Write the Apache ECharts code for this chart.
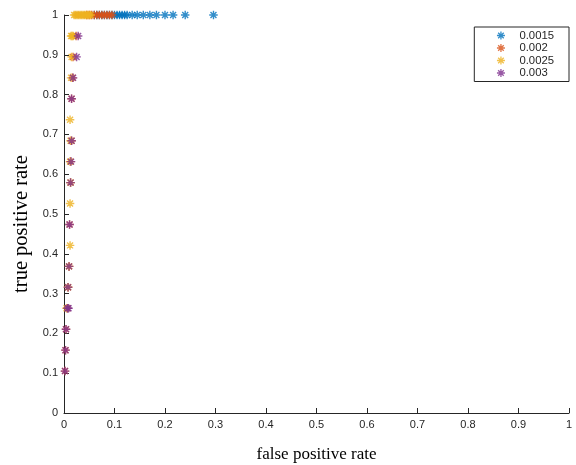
<!DOCTYPE html>
<html>
<head>
<meta charset="utf-8">
<script src="https://cdn.jsdelivr.net/npm/echarts@6/dist/echarts.min.js"></script>
<style>
  html, body { margin: 0; padding: 0; background: #fff; }
  #main { width: 576px; height: 465px; }
</style>
</head>
<body>
<div id="main"></div>
<script>
// thresholds shown in the legend
const names = ['0.0015', '0.002', '0.0025', '0.003']
const colors = ['#0072BD', '#D95319', '#EDB120', '#7E2F8E']

// false positive rate / true positive rate per threshold
const fpr0015 = [0.06, 0.065, 0.07, 0.075, 0.08, 0.085, 0.09, 0.095, 0.1, 0.105, 0.11, 0.115, 0.12, 0.125, 0.135, 0.145, 0.157, 0.17, 0.183, 0.2, 0.216, 0.24, 0.296]
const tpr0015 = [1, 1, 1, 1, 1, 1, 1, 1, 1, 1, 1, 1, 1, 1, 1, 1, 1, 1, 1, 1, 1, 1, 1]

const fpr002 = [0.002, 0.003, 0.004, 0.007, 0.008, 0.01, 0.011, 0.013, 0.013, 0.015, 0.015, 0.017, 0.018, 0.024, 0.045, 0.05, 0.055, 0.06, 0.065, 0.07, 0.075, 0.08, 0.085, 0.09, 0.095]
const tpr002 = [0.1053, 0.1579, 0.2105, 0.2632, 0.3158, 0.3684, 0.4737, 0.5789, 0.6316, 0.6842, 0.7895, 0.8421, 0.8947, 0.9474, 1, 1, 1, 1, 1, 1, 1, 1, 1, 1, 1]

const fpr0025 = [0.005, 0.008, 0.01, 0.012, 0.012, 0.013, 0.012, 0.013, 0.012, 0.014, 0.015, 0.014, 0.016, 0.018, 0.02, 0.023, 0.026, 0.029, 0.032, 0.035, 0.038, 0.041, 0.044, 0.047, 0.05, 0.053]
const tpr0025 = [0.2632, 0.3158, 0.3684, 0.4211, 0.5263, 0.5789, 0.6316, 0.6842, 0.7368, 0.8421, 0.8947, 0.9474, 0.9474, 0.9474, 1, 1, 1, 1, 1, 1, 1, 1, 1, 1, 1, 1]

const fpr003 = [0.002, 0.003, 0.004, 0.007, 0.009, 0.008, 0.01, 0.011, 0.013, 0.014, 0.015, 0.015, 0.018, 0.025, 0.028]
const tpr003 = [0.1053, 0.1579, 0.2105, 0.2632, 0.2632, 0.3158, 0.3684, 0.4737, 0.5789, 0.6316, 0.6842, 0.7895, 0.8421, 0.8947, 0.9474]

const fprs = [fpr0015, fpr002, fpr0025, fpr003]
const tprs = [tpr0015, tpr002, tpr0025, tpr003]

const star = 'path://M0,5L10,5M5,0L5,10M1.5,1.5L8.5,8.5M1.5,8.5L8.5,1.5'
const axisColor = '#262626'

var myChart = echarts.init(document.getElementById('main'))

const series = names.map((name, i) => ({
  name: name,
  type: 'scatter',
  symbol: star,
  symbolSize: 8.5,
  data: fprs[i].map((x, j) => [x, tprs[i][j]]),
  itemStyle: {
    color: 'rgba(0,0,0,0)',
    borderColor: colors[i],
    borderWidth: 1.4,
  },
  emphasis: { disabled: true },
}))

const tickFmt = (v) => String(Math.round(v * 10) / 10)

var option = {
  animation: false,
  backgroundColor: '#fff',
  grid: {
    left: 64,
    right: 7,
    top: 15,
    bottom: 52,
    outerBoundsMode: 'none',
    containLabel: false,
  },
  legend: {
    orient: 'vertical',
    right: 7,
    top: 27,
    padding: [3, 15, 3, 22],
    itemWidth: 27,
    itemHeight: 8,
    itemGap: 1.5,
    borderColor: axisColor,
    borderWidth: 1,
    symbolKeepAspect: true,
    textStyle: {
      fontFamily: 'Liberation Sans',
      fontSize: 11.3,
      lineHeight: 11,
      color: axisColor,
    },
    data: names.map((n, i) => ({
      name: n,
      icon: star,
      itemStyle: { color: 'rgba(0,0,0,0)', borderColor: colors[i], borderWidth: 1.3 },
    })),
  },
  xAxis: {
    type: 'value',
    min: 0,
    max: 1,
    interval: 0.1,
    name: 'false positive rate',
    nameLocation: 'middle',
    nameGap: 33,
    nameTextStyle: {
      fontFamily: 'Liberation Serif',
      fontSize: 17,
      color: '#000',
    },
    axisLine: { show: true, lineStyle: { color: axisColor, width: 1 } },
    axisTick: { show: true, inside: true, length: 5, lineStyle: { color: axisColor } },
    axisLabel: {
      color: axisColor,
      fontFamily: 'Liberation Sans',
      fontSize: 11,
      margin: 6,
      formatter: tickFmt,
    },
    splitLine: { show: false },
  },
  yAxis: {
    type: 'value',
    min: 0,
    max: 1,
    interval: 0.1,
    name: 'true positive rate',
    nameLocation: 'middle',
    nameGap: 25,
    nameTextStyle: {
      fontFamily: 'Liberation Serif',
      fontSize: 20.5,
      color: '#000',
      padding: [0, 20, 0, 0],
    },
    axisLine: { show: true, lineStyle: { color: axisColor, width: 1 } },
    axisTick: { show: true, inside: true, length: 5, lineStyle: { color: axisColor } },
    axisLabel: {
      color: axisColor,
      fontFamily: 'Liberation Sans',
      fontSize: 11,
      margin: 6,
      formatter: tickFmt,
    },
    splitLine: { show: false },
  },
  series: series,
}

option && myChart.setOption(option)
</script>
</body>
</html>
